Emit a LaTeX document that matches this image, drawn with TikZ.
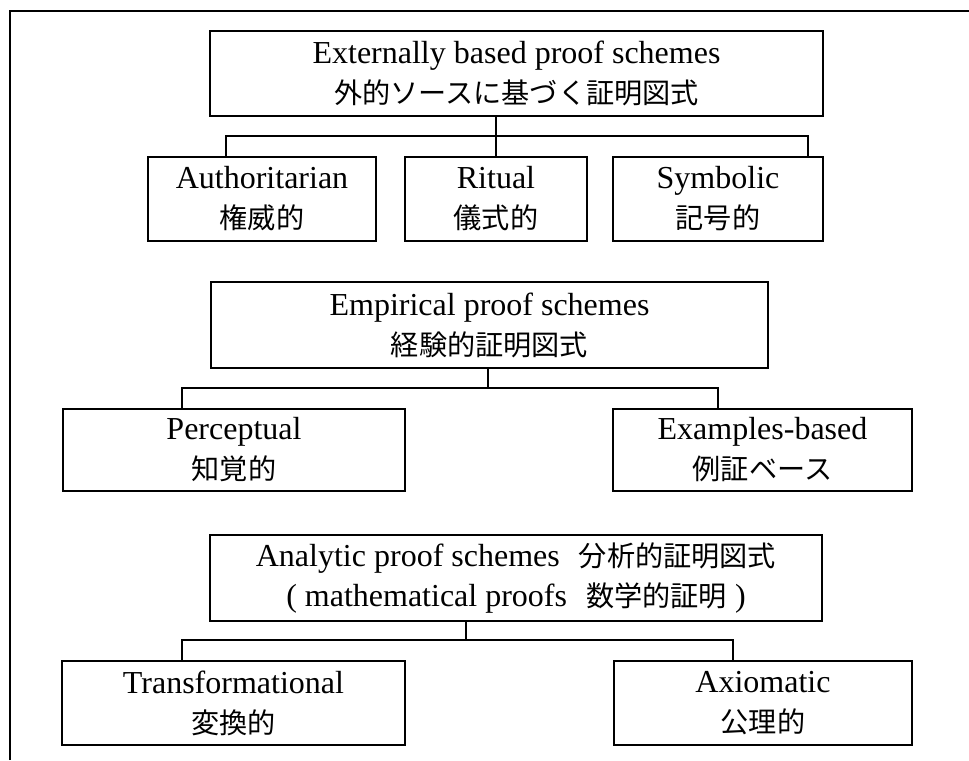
\documentclass[tikz,border=0pt]{standalone}
\usepackage{fontspec}
\setmainfont{Liberation Serif}
\newfontfamily\jp[Scale=0.88]{Noto Sans CJK JP}
\usetikzlibrary{positioning}

\begin{document}
\begin{tikzpicture}[x=0.75pt,y=-0.75pt,line width=1.5pt,
  box/.style={draw,rectangle,align=center,inner sep=0pt,minimum height=63pt,
    font=\fontsize{24}{30}\selectfont}]
  \useasboundingbox (0,0) rectangle (969,760);
  \draw (10,760) -- (10,11) -- (969,11);

  % externally based
  \node[box,minimum width=459.75pt,minimum height=63.75pt] (ext) at (516.5,73.5)
    {Externally based proof schemes\\{\jp 外的ソースに基づく証明図式}};
  \node[box,minimum width=171pt] (auth) at (262,199) {Authoritarian\\{\jp 権威的}};
  \node[box,minimum width=136.5pt] (rit) at (496,199) {Ritual\\{\jp 儀式的}};
  \node[box,minimum width=157.5pt] (sym) at (718,199) {Symbolic\\{\jp 記号的}};

  % empirical
  \node[box,minimum width=417.75pt,minimum height=64.5pt] (emp) at (489.5,325)
    {Empirical proof schemes\\{\jp 経験的証明図式}};
  \node[box,minimum width=256.5pt,minimum height=61.5pt] (per) at (234,450) {Perceptual\\{\jp 知覚的}};
  \node[box,minimum width=224.25pt,minimum height=61.5pt] (exa) at (762.5,450) {Examples-based\\{\jp 例証ベース}};

  % analytic
  \node[box,minimum width=459pt,minimum height=64.5pt] (ana) at (516,578)
    {Analytic proof schemes\hspace{0.6em}{\jp 分析的証明図式}\\( mathematical proofs\hspace{0.6em}{\jp 数学的証明} )};
  \node[box,minimum width=257.25pt] (tra) at (233.5,703) {Transformational\\{\jp 変換的}};
  \node[box,minimum width=223.5pt] (axi) at (763,703) {Axiomatic\\{\jp 公理的}};

  \coordinate (d1) at (496,136);  \coordinate (l1) at (226,136);  \coordinate (r1) at (808,136);
  \coordinate (d2) at (488,388);  \coordinate (l2) at (182,388);  \coordinate (r2) at (718,388);
  \coordinate (d3) at (466,640);  \coordinate (l3) at (182,640);  \coordinate (r3) at (733,640);

  \draw (d1 |- ext.south) -- (d1) -- (d1 |- rit.north)
        (l1 |- auth.north) -- (l1) -- (r1) -- (r1 |- sym.north);
  \draw (d2 |- emp.south) -- (d2)
        (l2 |- per.north) -- (l2) -- (r2) -- (r2 |- exa.north);
  \draw (d3 |- ana.south) -- (d3)
        (l3 |- tra.north) -- (l3) -- (r3) -- (r3 |- axi.north);
\end{tikzpicture}
\end{document}
